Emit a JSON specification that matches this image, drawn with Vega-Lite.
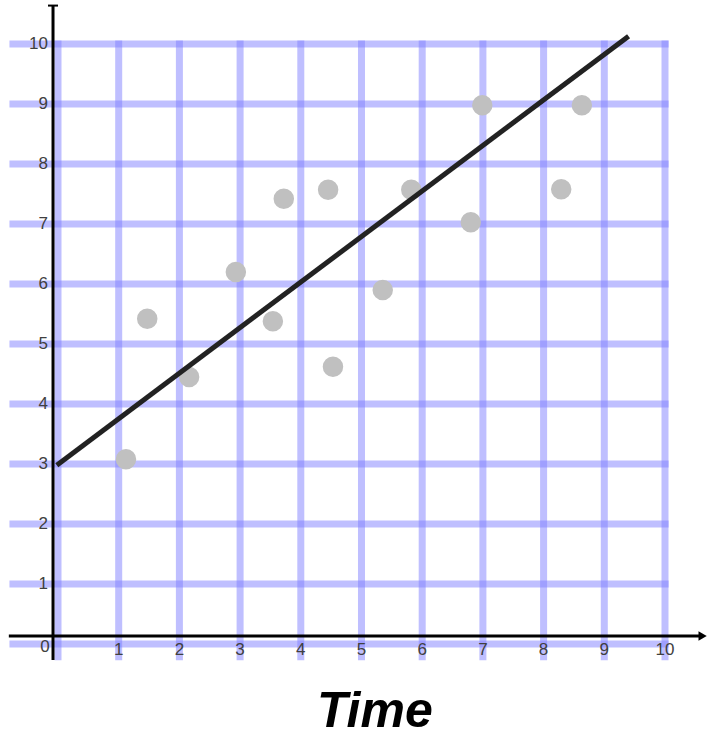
{
  "$schema": "https://vega.github.io/schema/vega-lite/v6.json",
  "width": 709,
  "height": 738,
  "autosize": {"type": "none"},
  "padding": 0,
  "background": "white",
  "config": {"view": {"stroke": null}},
  "datasets": {
    "grid": [{"v":0},{"v":1},{"v":2},{"v":3},{"v":4},{"v":5},{"v":6},{"v":7},{"v":8},{"v":9},{"v":10}],
    "points": [
      {"t":1.12,"s":3.08},{"t":1.47,"s":5.42},{"t":2.16,"s":4.45},{"t":2.93,"s":6.2},
      {"t":3.54,"s":5.38},{"t":3.72,"s":7.42},{"t":4.45,"s":7.57},{"t":4.53,"s":4.62},
      {"t":5.35,"s":5.9},{"t":5.82,"s":7.57},{"t":6.8,"s":7.03},{"t":6.99,"s":8.98},
      {"t":8.29,"s":7.58},{"t":8.63,"s":8.98}
    ],
    "fit": [{"t":-0.02,"s":2.98},{"t":9.4,"s":10.13}],
    "one": [{"name":"Time"}]
  },
  "layer": [
    {
      "data": {"name": "grid"},
      "mark": {"type": "rule", "color": "#8080ff", "opacity": 0.5, "strokeWidth": 7},
      "encoding": {
        "x": {"field": "v", "type": "quantitative", "scale": {"domain": [-0.9555, 10.7249], "nice": false, "zero": false}, "axis": null},
        "y": {"datum": -0.27, "type": "quantitative", "scale": {"domain": [-1.567, 10.733], "nice": false, "zero": false}, "axis": null},
        "y2": {"datum": 10.06}
      }
    },
    {
      "data": {"name": "grid"},
      "mark": {"type": "rule", "color": "#8080ff", "opacity": 0.5, "strokeWidth": 7},
      "encoding": {
        "y": {"field": "v", "type": "quantitative"},
        "x": {"datum": -0.8, "type": "quantitative"},
        "x2": {"datum": 10.06}
      }
    },
    {
      "data": {"name": "one"},
      "mark": {"type": "rule", "color": "#000000", "strokeWidth": 3},
      "encoding": {
        "y": {"datum": 0.133, "type": "quantitative"},
        "x": {"datum": -0.81, "type": "quantitative"},
        "x2": {"datum": 10.56}
      }
    },
    {
      "data": {"name": "one"},
      "mark": {"type": "rule", "color": "#000000", "strokeWidth": 3},
      "encoding": {
        "x": {"datum": -0.082, "type": "quantitative"},
        "y": {"datum": -0.267, "type": "quantitative"},
        "y2": {"datum": 10.64}
      }
    },
    {
      "data": {"name": "one"},
      "mark": {"type": "rule", "color": "#000000", "strokeWidth": 2},
      "encoding": {
        "y": {"datum": 10.64, "type": "quantitative"},
        "x": {"datum": -0.165, "type": "quantitative"},
        "x2": {"datum": 0.0}
      }
    },
    {
      "data": {"name": "one"},
      "mark": {"type": "point", "shape": "triangle-right", "filled": true, "color": "#000000", "size": 90, "opacity": 1},
      "encoding": {
        "x": {"datum": 10.62, "type": "quantitative"},
        "y": {"datum": 0.133, "type": "quantitative"}
      }
    },
    {
      "data": {"name": "points"},
      "mark": {"type": "circle", "color": "#c0c0c0", "opacity": 1, "size": 420},
      "encoding": {
        "x": {"field": "t", "type": "quantitative"},
        "y": {"field": "s", "type": "quantitative"}
      }
    },
    {
      "data": {"name": "fit"},
      "mark": {"type": "line", "color": "#222222", "strokeWidth": 5},
      "encoding": {
        "x": {"field": "t", "type": "quantitative"},
        "y": {"field": "s", "type": "quantitative"}
      }
    },
    {
      "data": {"name": "grid"},
      "transform": [{"filter": "datum.v > 0"}],
      "mark": {"type": "text", "align": "right", "baseline": "middle", "font": "Liberation Sans", "fontSize": 17, "color": "#404040"},
      "encoding": {
        "y": {"field": "v", "type": "quantitative"},
        "x": {"datum": -0.165, "type": "quantitative"},
        "text": {"field": "v", "type": "quantitative"}
      }
    },
    {
      "data": {"name": "grid"},
      "transform": [{"filter": "datum.v > 0"}],
      "mark": {"type": "text", "align": "center", "baseline": "middle", "font": "Liberation Sans", "fontSize": 17, "color": "#404040"},
      "encoding": {
        "x": {"field": "v", "type": "quantitative"},
        "y": {"datum": -0.1, "type": "quantitative"},
        "text": {"field": "v", "type": "quantitative"}
      }
    },
    {
      "data": {"name": "grid"},
      "transform": [{"filter": "datum.v == 0"}],
      "mark": {"type": "text", "align": "center", "baseline": "middle", "font": "Liberation Sans", "fontSize": 17, "color": "#404040"},
      "encoding": {
        "x": {"datum": -0.214, "type": "quantitative"},
        "y": {"datum": -0.05, "type": "quantitative"},
        "text": {"field": "v", "type": "quantitative"}
      }
    },
    {
      "data": {"name": "one"},
      "mark": {"type": "text", "align": "center", "baseline": "middle", "font": "Liberation Sans", "fontSize": 50, "fontWeight": "bold", "fontStyle": "italic", "color": "#000000"},
      "encoding": {
        "x": {"datum": 5.22, "type": "quantitative"},
        "y": {"datum": -1.13, "type": "quantitative"},
        "text": {"field": "name", "type": "nominal"}
      }
    }
  ]
}
